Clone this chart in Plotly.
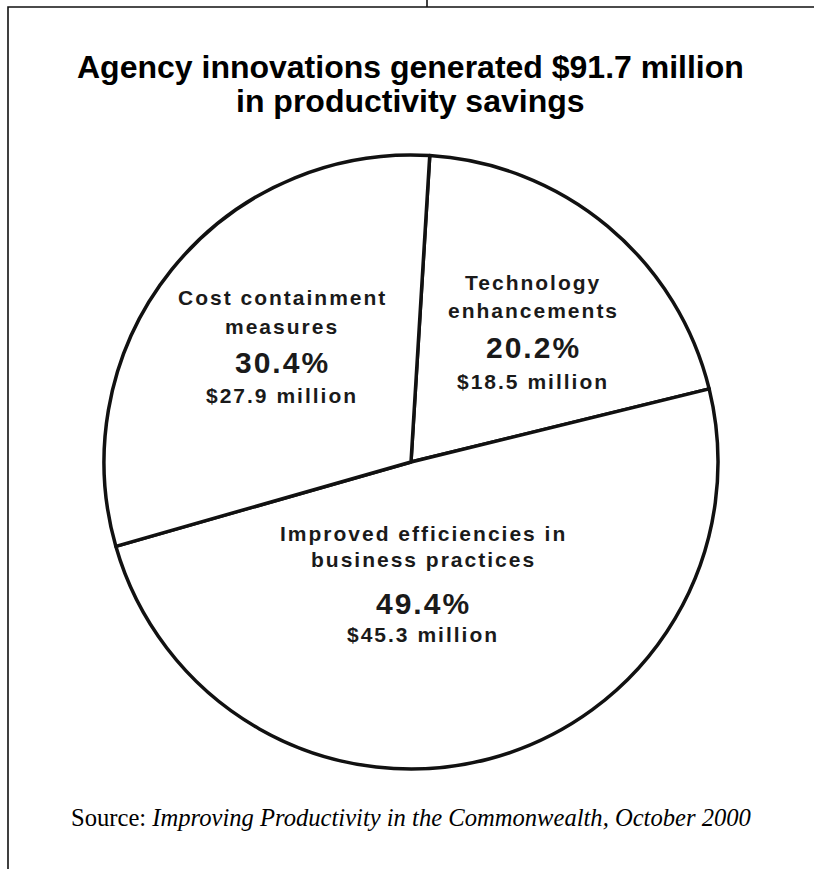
import plotly.graph_objects as go

W, H = 814, 869

# ---- data ----
title_lines = ["Agency innovations generated $91.7 million", "in productivity savings"]
categories = ["Technology enhancements", "Improved efficiencies in business practices", "Cost containment measures"]
label_lines = [["Technology", "enhancements"],
               ["Improved efficiencies in", "business practices"],
               ["Cost containment", "measures"]]
percents = [20.2, 49.4, 30.4]
amounts = [18.5, 45.3, 27.9]   # $ million
source_prefix = "Source: "
source_title = "Improving Productivity in the Commonwealth, October 2000"

def px(x):
    return x / W

def py(y):
    return 1 - y / H

cx, cy, r = 411, 462, 307

fig = go.Figure()
fig.add_trace(go.Pie(
    labels=categories,
    values=percents,
    sort=False,
    direction="clockwise",
    rotation=3.5,
    textinfo="none",
    hoverinfo="label+percent",
    marker=dict(colors=["white"] * 3, line=dict(color="#111111", width=3.5)),
    domain=dict(x=[px(cx - r), px(cx + r)], y=[py(cy + r), py(cy - r)]),
    showlegend=False,
))

LS = "letter-spacing:2px"
lab_font = dict(family="Liberation Sans", size=21, color="#1a1a1a", weight="bold")
pct_font = dict(family="Liberation Sans", size=30, color="#1a1a1a", weight="bold")

# label anchor positions (pixel): x centre, y of each text line
label_pos = [
    (533, [283, 311, 348, 381]),
    (423, [533, 559, 603, 634]),
    (282, [297, 326, 362, 395]),
]

ann = []
for i, (x, ys) in enumerate(label_pos):
    texts = [label_lines[i][0], label_lines[i][1], f"{percents[i]:.1f}%", f"${amounts[i]:.1f} million"]
    fonts = [lab_font, lab_font, pct_font, lab_font]
    for t, yy, f in zip(texts, ys, fonts):
        ann.append(dict(x=px(x), y=py(yy), xref="paper", yref="paper",
                        text=f'<span style="{LS}">{t}</span>', showarrow=False,
                        xanchor="center", yanchor="middle", font=f))

title_font = dict(family="Liberation Sans", size=32, color="#000000", weight="bold")
for t, yy in zip(title_lines, [67, 101]):
    ann.append(dict(x=px(410), y=py(yy), xref="paper", yref="paper", text=t,
                    showarrow=False, xanchor="center", yanchor="middle", font=title_font))

ann.append(dict(x=px(411), y=py(817), xref="paper", yref="paper",
                text=f"{source_prefix}<i>{source_title}</i>", showarrow=False,
                xanchor="center", yanchor="middle",
                font=dict(family="Liberation Serif", size=24.6, color="#000000")))

shapes = [
    dict(type="rect", xref="paper", yref="paper", x0=px(8), x1=px(W + 10), y0=py(H + 10), y1=py(7),
         line=dict(color="#111111", width=1.6), fillcolor="rgba(0,0,0,0)"),
    dict(type="line", xref="paper", yref="paper", x0=px(427), x1=px(427), y0=py(0), y1=py(7),
         line=dict(color="#111111", width=1.6)),
]

fig.update_layout(
    width=W, height=H,
    margin=dict(l=0, r=0, t=0, b=0),
    paper_bgcolor="white", plot_bgcolor="white",
    annotations=ann, shapes=shapes,
)

fig.write_html("out.html", config={"displayModeBar": False},
               post_script="document.body.style.margin='0px';document.body.style.overflow='hidden';")
